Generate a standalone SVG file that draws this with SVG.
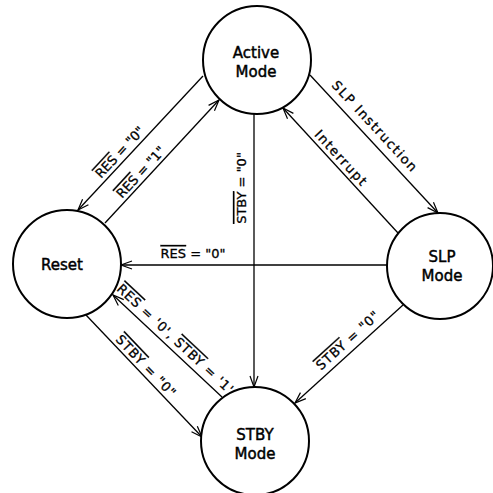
<svg xmlns="http://www.w3.org/2000/svg" width="493" height="493" viewBox="0 0 493 493">
<defs>
<style>
.node circle{fill:#fff;stroke:#000;stroke-width:2}
.node text{font-family:"DejaVu Sans","Liberation Sans",sans-serif;font-size:15px;text-anchor:middle;fill:#000;stroke:#000;stroke-width:0.45}
.conn line{stroke:#000;stroke-width:1.3;fill:none;marker-end:url(#arr)}
.lbl{font-family:"DejaVu Sans","Liberation Sans",sans-serif;font-size:13px;text-anchor:middle;fill:#000;stroke:#000;stroke-width:0.3}
.wide{letter-spacing:0.9px}
.ov{text-decoration:overline}
</style>
<marker id="arr" markerWidth="14" markerHeight="10" refX="12" refY="5" orient="auto" markerUnits="userSpaceOnUse">
<path d="M1,1 L12,5 L1,9" fill="none" stroke="#000" stroke-width="1.2"/>
</marker>
</defs>
<rect width="493" height="493" fill="#fff"/>
<g id="connectors" class="conn">
<line x1="203" y1="76" x2="78" y2="210"/>
<line x1="105" y1="223" x2="219" y2="100"/>
<line x1="254" y1="114" x2="254" y2="387"/>
<line x1="310" y1="75" x2="438" y2="213"/>
<line x1="398" y1="233" x2="283" y2="108"/>
<line x1="387" y1="265" x2="121" y2="265"/>
<line x1="222" y1="397" x2="113" y2="295"/>
<line x1="86" y1="315" x2="202" y2="437"/>
<line x1="403" y1="305" x2="295" y2="403"/>
</g>
<g id="labels">
<g transform="translate(126,158) rotate(-47)"><text class="lbl" y="-4"><tspan class="ov">RES</tspan> = "0"</text></g>
<g transform="translate(147,178) rotate(-47.2)"><text class="lbl" y="-4"><tspan class="ov">RES</tspan> = "1"</text></g>
<g transform="translate(254,188) rotate(-90)"><text class="lbl" y="-8"><tspan class="ov">STBY</tspan> = "0"</text></g>
<g transform="translate(368,133) rotate(47.2)"><text class="lbl wide" y="-5" style="letter-spacing:1.5px">SLP Instruction</text></g>
<g transform="translate(335,164) rotate(47.4)"><text class="lbl" y="-4" style="letter-spacing:1.6px">Interrupt</text></g>
<text class="lbl" x="193" y="258"><tspan class="ov">RES</tspan> = "0"</text>
<g transform="translate(169,346) rotate(43)"><text class="lbl wide" y="-5"><tspan class="ov">RES</tspan> = '0', <tspan class="ov">STBY</tspan> = '1'</text></g>
<g transform="translate(140,372) rotate(46.4)"><text class="lbl wide" y="-4"><tspan class="ov">STBY</tspan> = "0"</text></g>
<g transform="translate(355,348) rotate(-42.2)"><text class="lbl wide" y="-6"><tspan class="ov">STBY</tspan> = "0"</text></g>
</g>
<g id="node-active" class="node">
<circle cx="257" cy="60" r="54"/>
<text x="256" y="58">Active</text>
<text x="256" y="77">Mode</text>
</g>
<g id="node-reset" class="node">
<circle cx="67" cy="264" r="54"/>
<text x="62" y="270">Reset</text>
</g>
<g id="node-slp" class="node">
<circle cx="440" cy="266" r="53"/>
<text x="442" y="262">SLP</text>
<text x="442" y="281">Mode</text>
</g>
<g id="node-stby" class="node">
<circle cx="255" cy="441" r="54"/>
<text x="255" y="440">STBY</text>
<text x="255" y="459">Mode</text>
</g>
</svg>
